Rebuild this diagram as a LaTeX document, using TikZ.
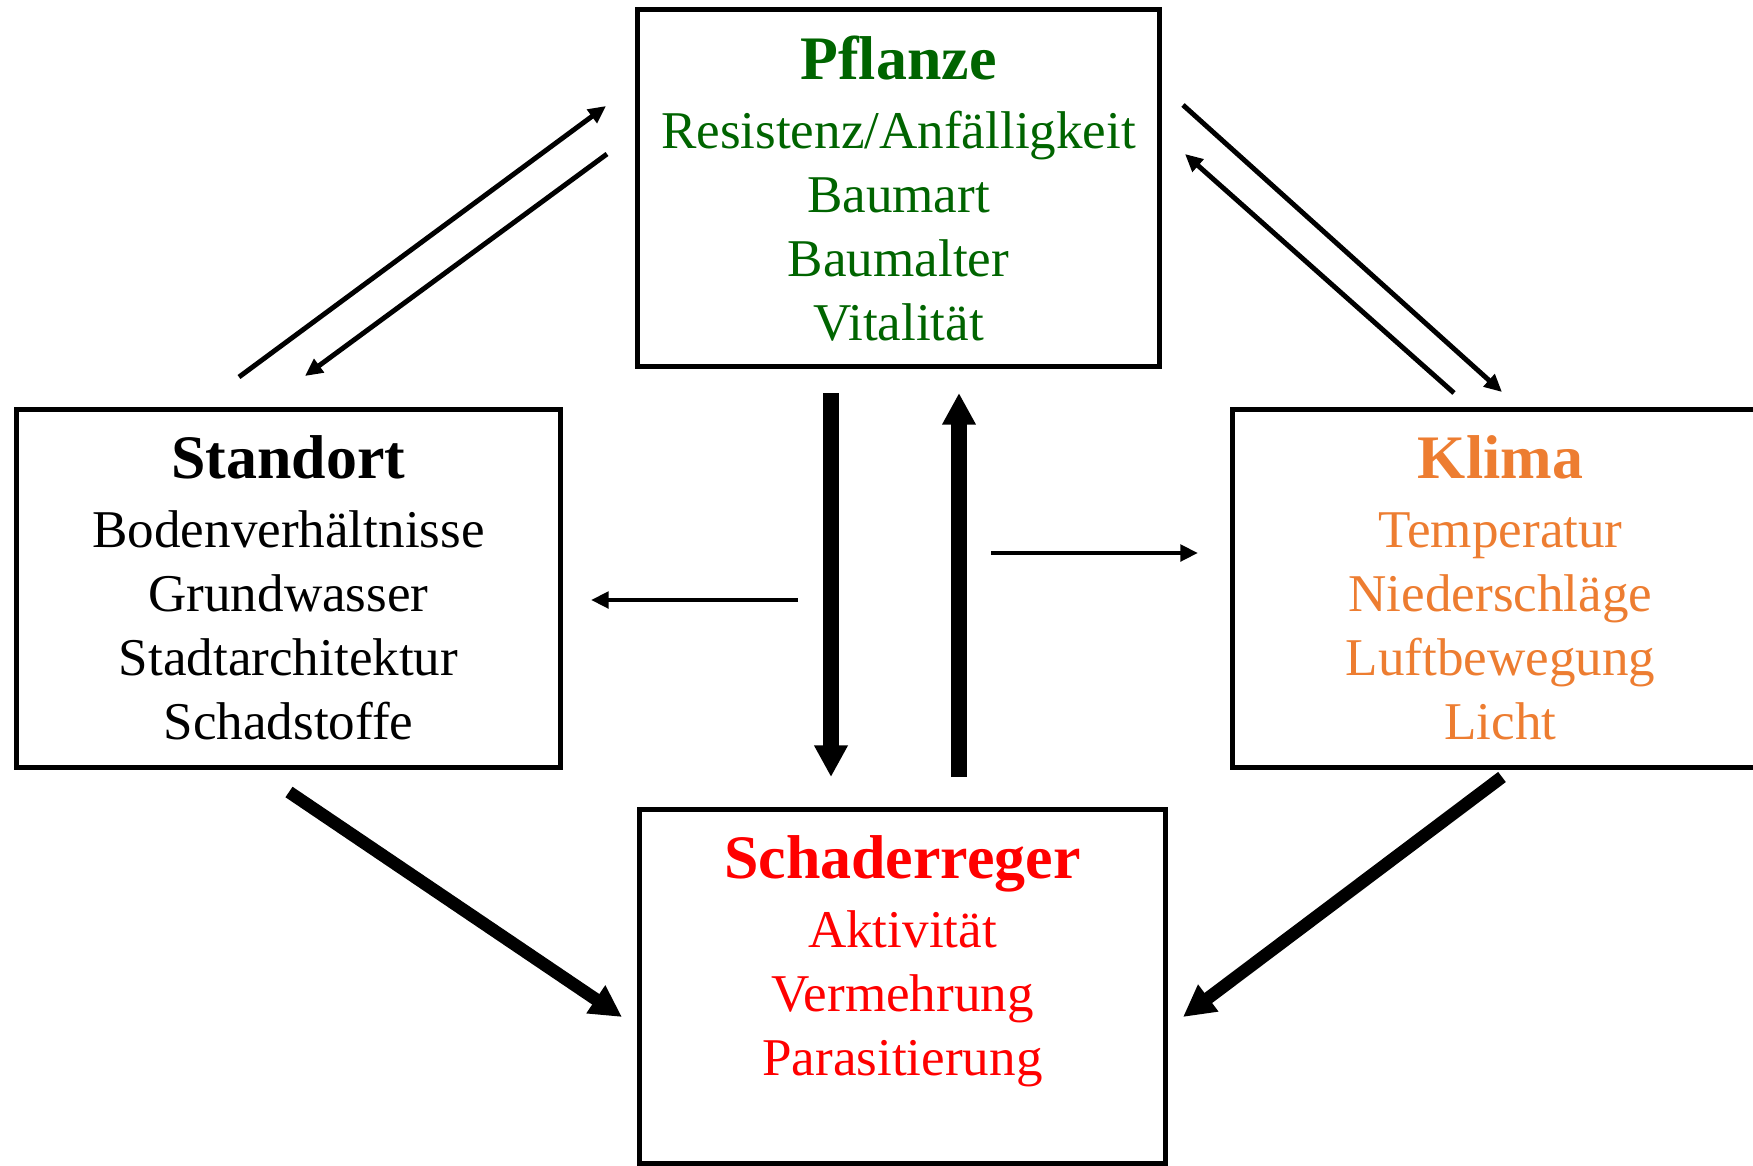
\documentclass[tikz,border=0pt]{standalone}
\usepackage
{
	fontspec,
	xcolor
}
\usetikzlibrary{arrows.meta, positioning}
\setmainfont{Liberation Serif}
\definecolor{pflanzegreen}{RGB}{0,100,0}
\definecolor{klimaorange}{RGB}{237,125,49}
\newcommand{\titlefont}{\fontsize{17.6}{18.2}\selectfont\bfseries}
\tikzset{
	box/.style={draw, rectangle, line width=1.42pt, inner sep=0pt},
	txt/.style={align=center, inner sep=0pt, font=\fontsize{15.1}{18.2}\selectfont},
	smallarrow/.style={line width=1.4pt, -{Triangle[length=5pt, width=4.6pt]}},
	bigarrow/.style={line width=4.3pt, -{Triangle[length=9pt, width=9pt]}},
	diagarrow/.style={line width=3.6pt, -{Triangle[length=9pt, width=9pt]}}
}

\begin{document}
\begin{tikzpicture}[x=0.01cm, y=-0.01cm]
{
	\useasboundingbox (0,0) rectangle (1753,1166);
	\node[box, minimum width=5.22cm, minimum height=3.57cm] (PflanzeBox) at (898.5,188) {};
	\node[box, minimum width=5.44cm, minimum height=3.58cm] (StandortBox) at (288.5,588.5) {};
	\node[box, minimum width=5.44cm, minimum height=3.58cm] (KlimaBox) at (1504.5,588.5) {};
	\node[box, minimum width=5.26cm, minimum height=3.54cm] (SchadBox) at (902.5,986.5) {};
	\node[txt, pflanzegreen, below=0.28cm of PflanzeBox.north] (Pflanze)
		{{\titlefont Pflanze}\\[1.5pt] Resistenz/Anfälligkeit\\ Baumart\\ Baumalter\\ Vitalität};
	\node[txt, black, below=0.28cm of StandortBox.north] (Standort)
		{{\titlefont Standort}\\[1.5pt] Bodenverhältnisse\\ Grundwasser\\ Stadtarchitektur\\ Schadstoffe};
	\node[txt, klimaorange, below left=0.28cm and 0.04cm of KlimaBox.north, anchor=north] (Klima)
		{{\titlefont Klima}\\[1.5pt] Temperatur\\ Niederschläge\\ Luftbewegung\\ Licht};
	\node[txt, red, below=0.28cm of SchadBox.north] (Schad)
		{{\titlefont Schaderreger}\\[1.5pt] Aktivität\\ Vermehrung\\ Parasitierung};
	\coordinate (StoP1) at (239,377);
	\coordinate (StoP2) at (606,106);
	\coordinate (PtoS1) at (607,154);
	\coordinate (PtoS2) at (305,376);
	\coordinate (PtoK1) at (1183,105);
	\coordinate (PtoK2) at (1502,392);
	\coordinate (KtoP1) at (1454,393);
	\coordinate (KtoP2) at (1185,154);
	\coordinate (PtoE1) at (831,393);
	\coordinate (PtoE2) at (831,777);
	\coordinate (EtoP1) at (959,777);
	\coordinate (EtoP2) at (959,393);
	\coordinate (EtoS1) at (798,600);
	\coordinate (EtoS2) at (591,600);
	\coordinate (EtoK1) at (991,553);
	\coordinate (EtoK2) at (1198,553);
	\coordinate (StoE1) at (289,792);
	\coordinate (StoE2) at (622,1017);
	\coordinate (KtoE1) at (1502,777);
	\coordinate (KtoE2) at (1183,1017);
	\draw[smallarrow] (StoP1) -- (StoP2);
	\draw[smallarrow] (PtoS1) -- (PtoS2);
	\draw[smallarrow] (PtoK1) -- (PtoK2);
	\draw[smallarrow] (KtoP1) -- (KtoP2);
	\draw[bigarrow] (PtoE1) -- (PtoE2);
	\draw[bigarrow] (EtoP1) -- (EtoP2);
	\draw[smallarrow] (EtoS1) -- (EtoS2);
	\draw[smallarrow] (EtoK1) -- (EtoK2);
	\draw[diagarrow] (StoE1) -- (StoE2);
	\draw[diagarrow] (KtoE1) -- (KtoE2);
}
\end{tikzpicture}
\end{document}
